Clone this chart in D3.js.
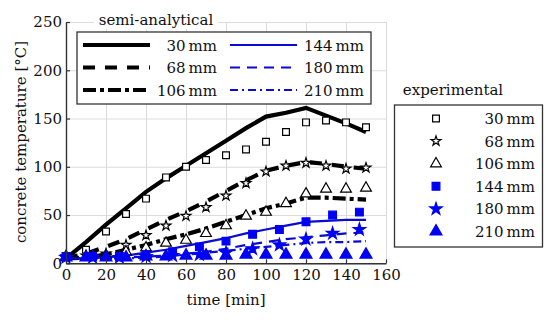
<!DOCTYPE html>
<html>
<head>
<meta charset="utf-8">
<script src="https://cdn.jsdelivr.net/npm/d3@7"></script>
<style>
  body { margin: 0; background: #fff; }
</style>
</head>
<body>
<div class="chart"></div>
<script>
var width = 550,
    height = 323;

// semi-analytical curves (time in min, temperature in °C)
var tSemi = [0, 10, 20, 30, 40, 50, 60, 70, 80, 90, 100, 110, 120, 130, 140, 150];
var semi30  = [5, 22, 40, 57, 74, 88, 101, 114, 127, 140, 152, 156, 161, 153, 145, 136];
var semi68  = [5, 10, 17, 25, 35, 45, 54, 64, 75, 86, 96, 101, 105, 103, 100, 98];
var semi106 = [5, 6, 9, 14, 19, 25, 30, 36, 43, 50, 57, 62, 68, 68, 67, 66];
var semi144 = [5, 5, 6, 8, 11, 14, 18, 22, 26, 31, 35, 39, 43, 44, 45, 45];
var semi180 = [5, 5, 5, 6, 7, 8, 10, 12, 15, 19, 22, 25, 27, 29, 31, 32];
var semi210 = [5, 5, 5, 5, 6, 7, 9, 11, 13, 15, 17, 19, 21, 22, 22, 23];

// experimental points
var tExpA = [0, 10, 20, 30, 40, 50, 60, 70, 80, 90, 100, 110, 120, 130, 140, 150];
var exp30  = [7, 14, 33, 51, 67, 89, 100, 107, 112, 118, 126, 136, 146, 148, 146, 141];
var exp68  = [7, 8, 10, 19, 29, 39, 49, 58, 70, 83, 95, 101, 104, 101, 98, 99];
var exp106 = [7, 7, 8, 12, 16, 21, 24, 31, 39, 49, 53, 62, 72, 77, 77, 78];
var tExpB = [0, 13.3, 26.7, 40, 53.3, 66.7, 80, 93.3, 106.7, 120, 133.3, 146.7];
var exp144 = [7, 7, 7, 9, 12, 17, 23, 30, 35, 43, 50, 53];
var exp180 = [6, 6, 6, 7, 8, 9, 11, 15, 19, 25, 31, 35];
var exp210 = [6, 6, 6, 6, 7, 7, 8, 8, 8, 9, 9, 9, 9, 9, 9, 9];

var xTicks = [0, 20, 40, 60, 80, 100, 120, 140, 160];
var yTicks = [0, 50, 100, 150, 200, 250];

var font = "'DejaVu Serif', serif";

var black = "#000",
    blue = "#0a0ad2",
    blueMark = "#0000f5";

var semiSeries = [
  {name: "30\u2009mm",  t: tSemi, v: semi30,  color: black, w: 4.2, dash: null},
  {name: "68\u2009mm",  t: tSemi, v: semi68,  color: black, w: 4.2, dash: "12,10"},
  {name: "106\u2009mm", t: tSemi, v: semi106, color: black, w: 4.2, dash: "13,4,4,4"},
  {name: "144\u2009mm", t: tSemi, v: semi144, color: blue,  w: 2.2, dash: null},
  {name: "180\u2009mm", t: tSemi, v: semi180, color: blue,  w: 2.2, dash: "10,7"},
  {name: "210\u2009mm", t: tSemi, v: semi210, color: blue,  w: 2.2, dash: "8,4,2,4"}
];

var expSeries = [
  {name: "30\u2009mm",  t: tExpA, v: exp30,  sym: d3.symbolSquare,   size: 46, fill: "#fff", stroke: black},
  {name: "68\u2009mm",  t: tExpA, v: exp68,  sym: d3.symbolStar,     size: 30, fill: "#fff", stroke: black},
  {name: "106\u2009mm", t: tExpA, v: exp106, sym: d3.symbolTriangle, size: 50, fill: "#fff", stroke: black},
  {name: "144\u2009mm", t: tExpB, v: exp144, sym: d3.symbolSquare,   size: 60, fill: blueMark, stroke: blueMark},
  {name: "180\u2009mm", t: tExpB, v: exp180, sym: d3.symbolStar,     size: 48, fill: blueMark, stroke: blueMark},
  {name: "210\u2009mm", t: tExpA, v: exp210, sym: d3.symbolTriangle, size: 62, fill: blueMark, stroke: blueMark}
];

var svg = d3.select(".chart").append("svg")
    .attr("width", width)
    .attr("height", height);

var x = d3.scaleLinear().domain([0, 160]).range([66, 386]);
var y = d3.scaleLinear().domain([0, 250]).range([263.3, 22]);

function label(sel) {
  return sel.style("font-family", font).style("font-size", "15px").attr("fill", "#111");
}

// grid
svg.append("g")
    .attr("transform", "translate(0,263.3)")
    .call(d3.axisBottom(x).tickValues(xTicks).tickSize(-(263.3 - 22)).tickFormat(""))
    .call(g => g.select(".domain").remove())
    .selectAll("line").attr("stroke", "#dcdcdc").attr("stroke-width", 1);

svg.append("g")
    .attr("transform", "translate(66,0)")
    .call(d3.axisLeft(y).tickValues(yTicks).tickSize(-(386 - 66)).tickFormat(""))
    .call(g => g.select(".domain").remove())
    .selectAll("line").attr("stroke", "#dcdcdc").attr("stroke-width", 1);

// semi-analytical lines
var line = d3.line();
semiSeries.forEach(function(s) {
  svg.append("path")
      .attr("d", line(s.t.map((t, i) => [x(t), y(s.v[i])])))
      .attr("fill", "none")
      .attr("stroke", s.color)
      .attr("stroke-width", s.w)
      .attr("stroke-dasharray", s.dash);
});

// experimental markers
expSeries.forEach(function(s) {
  svg.append("g").selectAll("path")
    .data(s.t.map((t, i) => [t, s.v[i]]))
    .join("path")
      .attr("transform", d => "translate(" + x(d[0]) + "," + y(d[1]) + ")")
      .attr("d", d3.symbol().type(s.sym).size(s.size))
      .attr("fill", s.fill)
      .attr("stroke", s.stroke)
      .attr("stroke-width", 1.2);
});

// axes
var xAxis = svg.append("g")
    .attr("transform", "translate(0,263.3)")
    .call(d3.axisBottom(x).tickValues(xTicks).tickSizeInner(-4).tickSizeOuter(0).tickPadding(6));
var yAxis = svg.append("g")
    .attr("transform", "translate(66,0)")
    .call(d3.axisLeft(y).tickValues(yTicks).tickSizeInner(-4).tickSizeOuter(0).tickPadding(4));
[xAxis, yAxis].forEach(function(a) {
  a.attr("font-family", null);
  a.select(".domain").attr("stroke", "#333").attr("stroke-width", 1.4);
  a.selectAll(".tick line").attr("stroke", "#333").attr("stroke-width", 1.2);
  label(a.selectAll("text"));
});

label(svg.append("text"))
    .attr("x", 226).attr("y", 305)
    .attr("text-anchor", "middle")
    .text("time [min]");

label(svg.append("text"))
    .attr("transform", "translate(26,142) rotate(-90)")
    .attr("text-anchor", "middle")
    .text("concrete temperature [°C]");

// legend: semi-analytical
svg.append("rect")
    .attr("x", 94).attr("y", 9).attr("width", 124).attr("height", 20)
    .attr("fill", "#fff");
label(svg.append("text"))
    .attr("x", 156).attr("y", 25)
    .attr("text-anchor", "middle")
    .text("semi-analytical");

svg.append("rect")
    .attr("x", 77).attr("y", 32).attr("width", 294).attr("height", 72)
    .attr("fill", "#fff")
    .attr("stroke", "#333")
    .attr("stroke-width", 1.3);

semiSeries.forEach(function(s, i) {
  var col = Math.floor(i / 3), row = i % 3;
  var x0 = col ? 230 : 83, x1 = col ? 297 : 150, tx = col ? 364 : 217;
  var yy = 45 + row * 22.5;
  svg.append("line")
      .attr("x1", x0).attr("x2", x1).attr("y1", yy).attr("y2", yy)
      .attr("stroke", s.color)
      .attr("stroke-width", s.w)
      .attr("stroke-dasharray", s.dash);
  label(svg.append("text"))
      .attr("x", tx).attr("y", yy + 5.5)
      .attr("text-anchor", "end")
      .text(s.name);
});

// legend: experimental
label(svg.append("text"))
    .attr("x", 453).attr("y", 95)
    .attr("text-anchor", "middle")
    .text("experimental");

svg.append("rect")
    .attr("x", 394.5).attr("y", 105).attr("width", 148).attr("height", 142)
    .attr("fill", "#fff")
    .attr("stroke", "#333")
    .attr("stroke-width", 1.3);

expSeries.forEach(function(s, i) {
  var yy = 118.5 + i * 22.6;
  svg.append("path")
      .attr("transform", "translate(436," + yy + ")")
      .attr("d", d3.symbol().type(s.sym).size(s.size))
      .attr("fill", s.fill)
      .attr("stroke", s.stroke)
      .attr("stroke-width", 1.2);
  label(svg.append("text"))
      .attr("x", 535).attr("y", yy + 5.5)
      .attr("text-anchor", "end")
      .text(s.name);
});
</script>
</body>
</html>
